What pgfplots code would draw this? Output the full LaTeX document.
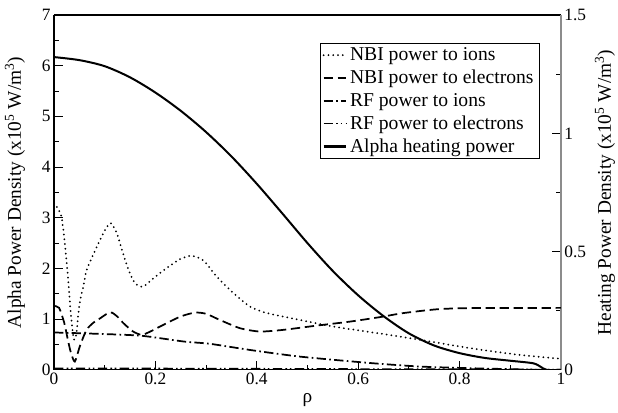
\documentclass[border=0pt]{standalone}
\usepackage{fontspec}
\setmainfont{Liberation Serif}
\usepackage{pgfplots}
\pgfplotsset{compat=1.18}

\pgfplotstableread{
x y
0     6.17
0.05  6.11
0.10  5.99
0.15  5.77
0.20  5.47
0.25  5.11
0.30  4.69
0.35  4.21
0.40  3.67
0.45  3.09
0.50  2.50
0.55  1.95
0.60  1.47
0.65  1.06
0.70  0.72
0.75  0.48
0.80  0.33
0.85  0.235
0.90  0.18
0.945 0.13
0.96  0.06
0.972 0.0
1.0   0.0
}\alpha

\pgfplotstableread{
x y
0     0.705
0.008 0.68
0.015 0.645
0.022 0.52
0.028 0.38
0.033 0.24
0.039 0.13
0.044 0.15
0.048 0.24
0.053 0.31
0.058 0.352
0.064 0.42
0.078 0.49
0.091 0.55
0.103 0.60
0.112 0.62
0.124 0.578
0.134 0.507
0.147 0.422
0.160 0.366
0.176 0.352
0.196 0.387
0.222 0.430
0.249 0.469
0.272 0.482
0.295 0.462
0.321 0.394
0.354 0.324
0.387 0.267
0.420 0.240
0.485 0.211
0.551 0.183
0.623 0.160
0.722 0.127
0.820 0.092
0.919 0.063
1.0   0.047
}\nbiions

\pgfplotstableread{
x y
0     0.270
0.010 0.262
0.020 0.200
0.027 0.130
0.033 0.075
0.041 0.035
0.051 0.100
0.064 0.169
0.078 0.200
0.091 0.218
0.105 0.238
0.114 0.242
0.125 0.225
0.137 0.197
0.156 0.162
0.173 0.148
0.190 0.162
0.209 0.183
0.249 0.225
0.278 0.242
0.300 0.237
0.327 0.211
0.367 0.176
0.406 0.162
0.452 0.169
0.518 0.187
0.584 0.204
0.643 0.223
0.689 0.240
0.755 0.256
0.820 0.261
1.0   0.262
}\nbielec

\pgfplotstableread{
x y
0     0.158
0.091 0.152
0.173 0.144
0.255 0.120
0.308 0.110
0.387 0.084
0.485 0.056
0.623 0.029
0.722 0.014
0.820 0.007
0.900 0.003
0.950 0.0
1.0   0.0
}\rfions

\pgfplotstableread{
x y
0     0.006
0.3   0.005
0.6   0.003
0.9   0.002
1.0   0.0
}\rfelec

\begin{document}
\begin{tikzpicture}[font=\fontsize{13.5}{15}\selectfont]
\pgfplotsset{
  every axis/.append style={
    width=380pt, height=266pt, scale only axis,
    xmin=0, xmax=1,
    tick align=inside,
    major tick length=7pt, minor tick length=3.5pt,
    tick style={black, line width=0.6pt},
    /pgf/number format/assume math mode=true,
    tick label style={font=\fontsize{13}{15}\selectfont},
    label style={font=\fontsize{14.5}{16}\selectfont},
  }
}
\begin{axis}[
  axis x line*=box, axis y line*=left,
  axis line style={line width=0.8pt},
  ymin=0, ymax=7,
  xtick={0,0.2,0.4,0.6,0.8,1},
  xticklabels={0,0.2,0.4,0.6,0.8,1},
  minor x tick num=1,
  ytick={0,1,2,3,4,5,6,7},
  minor y tick num=1,
  xtick pos=bottom, ytick pos=left,
  xticklabel style={yshift=1pt},
  yticklabel style={xshift=1pt},
  xlabel={ρ},
  xlabel style={at={(axis description cs:0.5,-0.085)}, anchor=center},
  ylabel={Alpha Power Density (x10\textsuperscript{5} W/m\textsuperscript{3})},
  ylabel style={at={(axis description cs:-0.077,0.5)}, anchor=center},
]
\addplot[black, line width=1.5pt, smooth, tension=0.5] table[x=x,y=y] {\alpha};
\end{axis}
\begin{axis}[
  axis y line*=right, axis x line=none,
  y axis line style={black!45, line width=0.9pt},
  ymin=0, ymax=1.5,
  ytick={0,0.5,1,1.5},
  yticklabels={0,0.5,1,1.5},
  minor y tick num=1,
  yticklabel style={xshift=-1pt},
  ylabel={Heating Power Density (x10\textsuperscript{5} W/m\textsuperscript{3})},
  ylabel style={at={(axis description cs:1.087,0.5)}, anchor=center},
  legend style={at={(0.957,0.92)}, anchor=north east, draw=black,
    font=\fontsize{14.7}{16}\selectfont, row sep=3.6pt,
    inner xsep=2pt, inner ysep=2pt, cells={anchor=west},
    nodes={inner ysep=1pt}},
  legend image code/.code={\draw[#1] (0pt,0pt) -- (17pt,0pt);},
]
\addplot[black, line width=1.5pt, smooth, tension=0.4, line cap=round, dash pattern=on 0pt off 3.6pt] table[x=x,y=y] {\nbiions};
\addlegendentry{NBI power to ions}
\addplot[black, line width=1.3pt, smooth, tension=0.4, dash pattern=on 7pt off 3.5pt] table[x=x,y=y] {\nbielec};
\addlegendentry{NBI power to electrons}
\addplot[black, line width=1.3pt, smooth, tension=0.4, dash pattern=on 7pt off 2.5pt on 1.2pt off 2.5pt] table[x=x,y=y] {\rfions};
\addlegendentry{RF power to ions}
\addplot[black, line width=1.3pt, dash pattern=on 7pt off 2.5pt on 1.2pt off 2pt on 1.2pt off 2.5pt] table[x=x,y=y] {\rfelec};
\addlegendentry{RF power to electrons}
\addlegendimage{black, line width=1.6pt}
\addlegendentry{Alpha heating power}
\end{axis}
\pgfresetboundingbox
\useasboundingbox ([xshift=-40.5pt, yshift=-32.25pt]current axis.south west) rectangle ([xshift=42.75pt, yshift=11.25pt]current axis.north east);
\end{tikzpicture}
\end{document}
